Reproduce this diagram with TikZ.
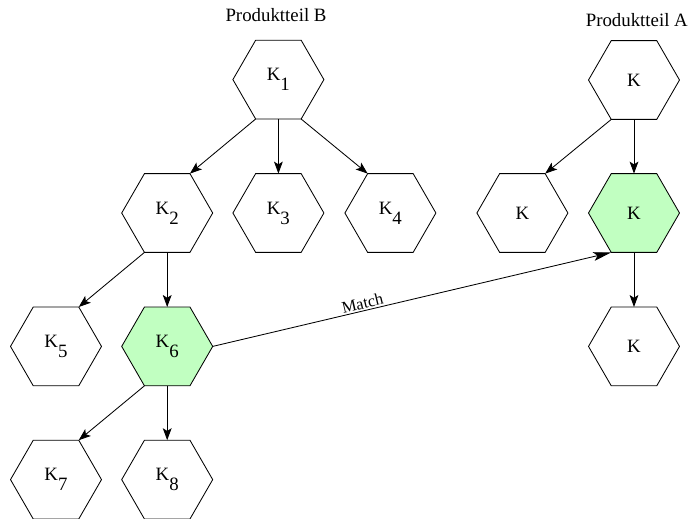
\documentclass[tikz,border=0pt]{standalone}
\usepackage{fontspec}
\setmainfont{Liberation Serif}
\usetikzlibrary{shapes.geometric, arrows.meta}

\definecolor{matchgreen}{RGB}{193,255,193}
% K with a lowered index, as in the part lists
\newcommand{\ksub}[1]{K\raisebox{-0.53em}{#1}}

\begin{document}
\begin{tikzpicture}[every node/.style={font=\fontsize{13.4}{16}\selectfont},
    komp/.style={draw, regular polygon, regular polygon sides=6, minimum size=2.275cm, inner sep=0pt, outer sep=0pt, line width=0.6pt},
    treffer/.style={komp, fill=matchgreen},
    pfeil/.style={-{Stealth[length=3mm, width=2.2mm, inset=0.7mm]}, line width=0.6pt},
    matchpfeil/.style={-{Stealth[length=4.5mm, width=2.2mm, inset=1mm]}, line width=0.6pt}]
    \useasboundingbox (0,0) rectangle (17.225,-12.95);

    % Produktteil B
    \node[anchor=base] (teilB) at (6.9,-0.5425) {Produktteil B};
    \node[komp] (k1) at (6.96,-1.99) {\ksub{1}};
    \node[komp] (k2) at (4.18,-5.325) {\ksub{2}};
    \node[komp] (k3) at (6.96,-5.325) {\ksub{3}};
    \node[komp] (k4) at (9.76,-5.325) {\ksub{4}};
    \node[komp] (k5) at (1.4,-8.66) {\ksub{5}};
    \node[treffer] (k6) at (4.18,-8.66) {\ksub{6}};
    \node[komp] (k7) at (1.4,-11.99) {\ksub{7}};
    \node[komp] (k8) at (4.18,-11.99) {\ksub{8}};

    % Produktteil A
    \node[anchor=base] (teilA) at (15.92,-0.667) {Produktteil A};
    \node[komp] (a1) at (15.85,-2.0) {K};
    \node[komp] (a2) at (13.06,-5.325) {K};
    \node[treffer] (a3) at (15.85,-5.325) {K};
    \node[komp] (a4) at (15.85,-8.66) {K};

    % Arrows
    \draw[pfeil] (k1.240) -- (k2.60);
    \draw[pfeil] (k1.south) -- (k3.north);
    \draw[pfeil] (k1.300) -- (k4.120);
    \draw[pfeil] (k2.240) -- (k5.60);
    \draw[pfeil] (k2.south) -- (k6.north);
    \draw[pfeil] (k6.240) -- (k7.60);
    \draw[pfeil] (k6.south) -- (k8.north);
    \draw[pfeil] (a1.240) -- (a2.60);
    \draw[pfeil] (a1.south) -- (a3.north);
    \draw[pfeil] (a3.south) -- (a4.north);

    % Match
    \draw[matchpfeil] (k6.east) -- node[sloped, above, pos=0.38, inner sep=1pt, font=\fontsize{11.7}{14}\selectfont] {Match} (a3.240);
\end{tikzpicture}
\end{document}
